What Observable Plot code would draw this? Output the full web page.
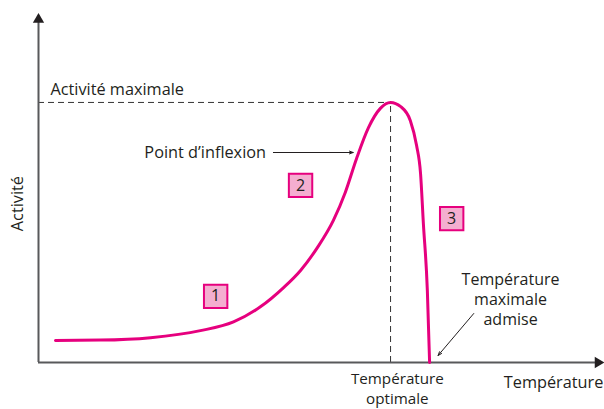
<!DOCTYPE html>
<html>
<head>
<meta charset="utf-8">
<script src="https://cdn.jsdelivr.net/npm/d3@7"></script>
<script src="https://cdn.jsdelivr.net/npm/@observablehq/plot@0.6"></script>
<style>
  html, body { margin: 0; padding: 0; background: #fff; }
  #chart svg { display: block; }
</style>
</head>
<body>
<div id="chart"></div>
<script>
// Activity curve (temperature in arbitrary units 0..100, activity 0..100)
const curveTemp = [3.0, 10.95, 19.8, 28.6, 34.45, 39.2, 43.3, 46.3, 49.3, 52.1, 54.2, 56.2, 58.3, 60.4, 62.2, 64.0, 65.7, 66.8, 67.5, 68.0, 68.7, 69.1];
const curveAct  = [6.3, 6.4, 7.1, 9.1, 11.6, 15.9, 21.4, 26.3, 32.9, 40.6, 48.6, 58.3, 67.1, 72.6, 74.3, 73.1, 69.1, 62.0, 54.0, 39.7, 20.6, 0.0];

// Key values
const optimumTemp = 62.2;
const maxActivity = 74.3;

// Numbered phase boxes
const phaseLabels = ["1", "2", "3"];
const phaseTemp = [31.3, 46.3, 73.0];
const phaseAct = [18.9, 50.6, 41.1];

// Axis extents
const axisTempEnd = 99.6;
const axisActEnd = 99.2;

const curve = curveTemp.map((t, i) => ({t, a: curveAct[i]}));
const phases = phaseLabels.map((l, i) => ({l, t: phaseTemp[i], a: phaseAct[i]}));

const magenta = "#e6007e";
const axisColor = "#58595b";
const textColor = "#231f20";
const font = "Open Sans";
const fs = 16.3;

const chart = Plot.plot({
  width: 604,
  height: 409,
  margin: 0,
  style: {fontFamily: font, background: "#fff"},
  x: {domain: [0, 100], range: [38, 604], axis: null},
  y: {domain: [0, 100], range: [362, 12], axis: null},
  marks: [
    // dashed guides
    Plot.ruleY([maxActivity], {x1: 0, x2: optimumTemp, stroke: "#333", strokeWidth: 1, strokeDasharray: "6,4"}),
    Plot.ruleX([optimumTemp], {y1: 0, y2: maxActivity, stroke: "#333", strokeWidth: 1, strokeDasharray: "6,4"}),
    // axes
    Plot.ruleY([0], {x1: 0, x2: axisTempEnd - 1.2, stroke: axisColor, strokeWidth: 2}),
    Plot.ruleX([0], {y1: 0, y2: axisActEnd - 2, stroke: axisColor, strokeWidth: 2}),
    Plot.dot([{t: axisTempEnd - 0.75, a: 0}], {x: "t", y: "a", symbol: "triangle", r: 4.2, fill: "#231f20", stroke: null, rotate: 90}),
    Plot.dot([{t: 0, a: axisActEnd - 1.2}], {x: "t", y: "a", symbol: "triangle", r: 4.2, fill: "#231f20", stroke: null}),
    // curve
    Plot.line(curve, {x: "t", y: "a", curve: "monotone-x", stroke: magenta, strokeWidth: 3}),
    // phase boxes
    Plot.dot(phases, {x: "t", y: "a", symbol: "square", r: 13.2, fill: "#f4aed0", stroke: magenta, strokeWidth: 2}),
    Plot.text(phases, {x: "t", y: "a", text: "l", fontSize: 16, fill: textColor}),
    // annotation arrows
    Plot.arrow([{x1: 41.5, y1: 60, x2: 55.6, y2: 60}], {x1: "x1", y1: "y1", x2: "x2", y2: "y2", stroke: textColor, strokeWidth: 1, headLength: 6, headAngle: 40}),
    Plot.arrow([{x1: 76.9, y1: 14, x2: 70.6, y2: 2.0}], {x1: "x1", y1: "y1", x2: "x2", y2: "y2", stroke: textColor, strokeWidth: 1, headLength: 6, headAngle: 40}),
    // texts
    Plot.text(["Activité maximale"], {x: 2.1, y: 77.8, text: d => d, textAnchor: "start", fontSize: fs, fill: textColor}),
    Plot.text(["Point d’inflexion"], {x: 40.2, y: 60, text: d => d, textAnchor: "end", fontSize: fs, fill: textColor}),
    Plot.text(["Température\nmaximale\nadmise"], {x: 83.4, y: 18.3, text: d => d, textAnchor: "middle", lineAnchor: "middle", lineHeight: 1.27, fontSize: 16, fill: textColor}),
    Plot.text(["Température\noptimale"], {x: 63.4, y: -7.1, text: d => d, textAnchor: "middle", lineAnchor: "middle", lineHeight: 1.3, fontSize: 15.2, fill: textColor}),
    Plot.text(["Température"], {x: 99.8, y: -5.7, text: d => d, textAnchor: "end", fontSize: fs, fill: textColor}),
    Plot.text(["Activité"], {x: -3.6, y: 45.4, text: d => d, rotate: -90, fontSize: fs, fill: textColor})
  ]
});
document.getElementById("chart").appendChild(chart);
</script>
</body>
</html>
